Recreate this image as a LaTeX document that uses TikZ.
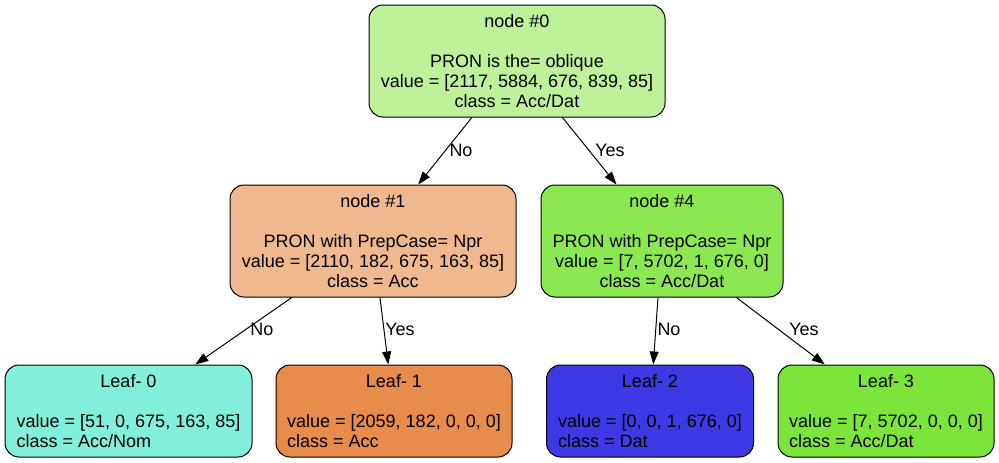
\documentclass[tikz,border=0pt]{standalone}
\usepackage{fontspec}
\setmainfont{Liberation Sans}
\usetikzlibrary{arrows.meta}
\definecolor{cnz}{RGB}{189,242,155}
\definecolor{cno}{RGB}{240,184,143}
\definecolor{cnf}{RGB}{139,232,81}
\definecolor{clz}{RGB}{130,239,218}
\definecolor{clo}{RGB}{231,140,75}
\definecolor{clt}{RGB}{60,57,229}
\definecolor{cle}{RGB}{123,229,57}
\newcommand\lowertxt[1]{\raisebox{-2.5pt}[\height][\depth]{#1}}
\begin{document}
\begin{tikzpicture}[x=1pt,y=-1pt,
  box/.style={draw=black, line width=1pt, rounded corners=14pt, inner sep=0pt,
    font=\fontsize{18}{20}\selectfont},
  inner/.style={box, minimum height=112pt},
  leaf/.style={box, minimum height=92pt},
  lbl/.style={inner sep=0pt, font=\fontsize{18}{20}\selectfont},
  edge/.style={draw, line width=1pt, -{Triangle[length=13pt,width=9pt]}}]
\useasboundingbox (0,0) rectangle (999,463);

\node[inner, fill=cnz, minimum width=296pt] (n0) at (517,61)
  {\lowertxt{\begin{tabular}{@{}c@{}}node \#0\\ \\ PRON is the= oblique\\ value = [2117, 5884, 676, 839, 85]\\ class = Acc/Dat\end{tabular}}};
\node[inner, fill=cno, minimum width=286pt] (n1) at (373,241)
  {\lowertxt{\begin{tabular}{@{}c@{}}node \#1\\ \\ PRON with PrepCase= Npr\\ value = [2110, 182, 675, 163, 85]\\ class = Acc\end{tabular}}};
\node[inner, fill=cnf, minimum width=242pt] (n4) at (662,241)
  {\lowertxt{\begin{tabular}{@{}c@{}}node \#4\\ \\ PRON with PrepCase= Npr\\ value = [7, 5702, 1, 676, 0]\\ class = Acc/Dat\end{tabular}}};

\node[leaf, fill=clz, minimum width=247pt] (l0) at (128.5,411)
  {\lowertxt{\begin{tabular}{@{}l@{}}\multicolumn{1}{@{}c@{}}{Leaf- 0}\\ \\ value = [51, 0, 675, 163, 85]\\ class = Acc/Nom\end{tabular}}};
\node[leaf, fill=clo, minimum width=236pt] (l1) at (394,411)
  {\lowertxt{\begin{tabular}{@{}l@{}}\multicolumn{1}{@{}c@{}}{Leaf- 1}\\ \\ value = [2059, 182, 0, 0, 0]\\ class = Acc\end{tabular}}};
\node[leaf, fill=clt, minimum width=207pt] (l2) at (650,411)
  {\lowertxt{\begin{tabular}{@{}l@{}}\multicolumn{1}{@{}c@{}}{Leaf- 2}\\ \\ value = [0, 0, 1, 676, 0]\\ class = Dat\end{tabular}}};
\node[leaf, fill=cle, minimum width=216pt] (l3) at (886,411)
  {\lowertxt{\begin{tabular}{@{}l@{}}\multicolumn{1}{@{}c@{}}{Leaf- 3}\\ \\ value = [7, 5702, 0, 0, 0]\\ class = Acc/Dat\end{tabular}}};

\draw[edge] (n0) -- (n1);
\draw[edge] (n0) -- (n4);
\draw[edge] (n1) -- (l0);
\draw[edge] (n1) -- (l1);
\draw[edge] (n4) -- (l2);
\draw[edge] (n4) -- (l3);

\node[lbl] (t01) at (461,150) {No};
\node[lbl] (t04) at (610,150) {Yes};
\node[lbl] (t10) at (262,329) {No};
\node[lbl] (t11) at (400,329) {Yes};
\node[lbl] (t42) at (669,329) {No};
\node[lbl] (t43) at (804,329) {Yes};
\end{tikzpicture}
\end{document}
